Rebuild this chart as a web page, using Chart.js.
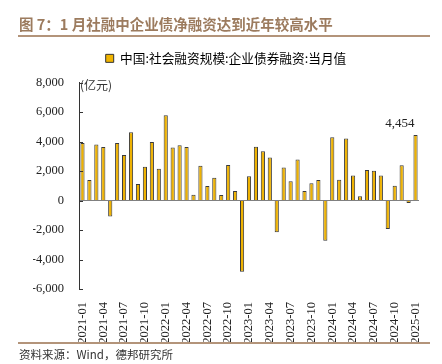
<!DOCTYPE html>
<html>
<head>
<meta charset="utf-8">
<script src="https://cdn.jsdelivr.net/npm/chart.js@4"></script>
<style>
  body { margin: 0; background: #fff; }
  #wrap { width: 442px; height: 364px; position: relative; }
</style>
</head>
<body>
<div id="wrap"><canvas id="stats" width="442" height="364"></canvas></div>
<script>
// monthly labels 2021-01 .. 2025-01
var months = [
  "2021-01","2021-02","2021-03","2021-04","2021-05","2021-06","2021-07","2021-08","2021-09","2021-10","2021-11","2021-12",
  "2022-01","2022-02","2022-03","2022-04","2022-05","2022-06","2022-07","2022-08","2022-09","2022-10","2022-11","2022-12",
  "2023-01","2023-02","2023-03","2023-04","2023-05","2023-06","2023-07","2023-08","2023-09","2023-10","2023-11","2023-12",
  "2024-01","2024-02","2024-03","2024-04","2024-05","2024-06","2024-07","2024-08","2024-09","2024-10","2024-11","2024-12",
  "2025-01"
];
// 中国:社会融资规模:企业债券融资:当月值 (亿元)
var bondFinancing = [
  3900, 1390, 3810, 3640, -1080, 3900, 3100, 4640, 1120, 2290, 3970, 2160,
  5790, 3610, 3750, 3640, 400, 2360, 990, 1550, 380, 2420, 650, -4830,
  1650, 3660, 3350, 2920, -2150, 2250, 1310, 2790, 650, 1170, 1390, -2730,
  4290, 1410, 4220, 1710, 300, 2080, 2020, 1710, -1930, 1010, 2400, -170,
  4454
];
var seriesName = "中国:社会融资规模:企业债券融资:当月值";
var titleText = "图 7：1 月社融中企业债净融资达到近年较高水平";
var sourceText = "资料来源：Wind，德邦研究所";
var unitText = "(亿元)";

var serif = "'Liberation Serif', 'Times New Roman', serif";
var cjk = "'Noto Sans CJK SC', sans-serif";

var decor = {
  id: "decor",
  afterDraw: function (chart) {
    var ctx = chart.ctx, a = chart.chartArea, y = chart.scales.y;
    ctx.save();
    // title + rules
    ctx.fillStyle = "#9c7b5e";
    ctx.font = "bold 14.5px " + cjk;
    ctx.textBaseline = "middle";
    ctx.textAlign = "left";
    ctx.fillText(titleText, 19, 24);
    ctx.strokeStyle = "#b3947a";
    ctx.lineWidth = 2;
    ctx.beginPath(); ctx.moveTo(18, 36); ctx.lineTo(430, 36); ctx.stroke();
    ctx.beginPath(); ctx.moveTo(18, 343); ctx.lineTo(430, 343); ctx.stroke();
    // source
    ctx.fillStyle = "#333";
    ctx.font = "11.5px " + cjk;
    ctx.fillText(sourceText, 19, 355);
    // unit
    ctx.font = "12px " + cjk;
    ctx.fillText(unitText, a.left + 1, a.top + 3);
    // inward ticks on y axis
    ctx.strokeStyle = "#333";
    ctx.lineWidth = 1;
    y.ticks.forEach(function (t) {
      var py = Math.round(y.getPixelForValue(t.value)) + 0.5;
      ctx.beginPath(); ctx.moveTo(a.left, py); ctx.lineTo(a.left + 4, py); ctx.stroke();
    });
    // value label on the latest bar
    var meta = chart.getDatasetMeta(0);
    var last = meta.data[meta.data.length - 1];
    ctx.fillStyle = "#222";
    ctx.font = "13px " + serif;
    ctx.textAlign = "right";
    ctx.textBaseline = "bottom";
    ctx.fillText(bondFinancing[bondFinancing.length - 1].toLocaleString("en-US"), last.x - 1, last.y - 5);
    ctx.restore();
  }
};

new Chart("stats", {
  type: "bar",
  data: {
    labels: months,
    datasets: [{
      label: seriesName,
      data: bondFinancing,
      backgroundColor: "#eeb202",
      borderColor: "#3a3a3a",
      borderWidth: 1,
      barPercentage: 0.6,
      categoryPercentage: 1.0
    }]
  },
  options: {
    responsive: false,
    animation: false,
    devicePixelRatio: 1,
    layout: { padding: { top: 40, bottom: 20, left: 33, right: 23 } },
    plugins: {
      // blank spacer box between legend and plot area
      title: {
        display: true, text: " ", weight: 500,
        font: { size: 1, lineHeight: 1 },
        padding: { top: 7, bottom: 0 }
      },
      legend: {
        labels: {
          boxWidth: 8, boxHeight: 8, padding: 12,
          color: "#222",
          font: { family: cjk, size: 12.7 },
          generateLabels: function (chart) {
            return [{ text: seriesName, fillStyle: "#f0b400", strokeStyle: "#333", lineWidth: 1, datasetIndex: 0 }];
          }
        }
      },
      tooltip: { enabled: false }
    },
    scales: {
      x: {
        grid: { display: false },
        border: { display: false },
        afterFit: function (s) { s.height = 55; },
        ticks: {
          autoSkip: false,
          minRotation: 90, maxRotation: 90,
          padding: 5,
          color: "#222",
          font: { family: serif, size: 12.5 },
          callback: function (v, i) { return i % 3 === 0 ? months[i] : ""; }
        }
      },
      y: {
        min: -6000, max: 8000,
        afterFit: function (s) { s.width = 46; },
        border: { display: true, color: "#333", width: 1 },
        grid: {
          drawTicks: false,
          color: function (c) { return c.tick && c.tick.value === 0 ? "#808080" : "rgba(0,0,0,0)"; },
          lineWidth: 1
        },
        ticks: {
          stepSize: 2000,
          padding: 15,
          color: "#222",
          font: { family: serif, size: 12.5 },
          callback: function (v) { return v.toLocaleString("en-US"); }
        }
      }
    }
  },
  plugins: [decor]
});
</script>
</body>
</html>
